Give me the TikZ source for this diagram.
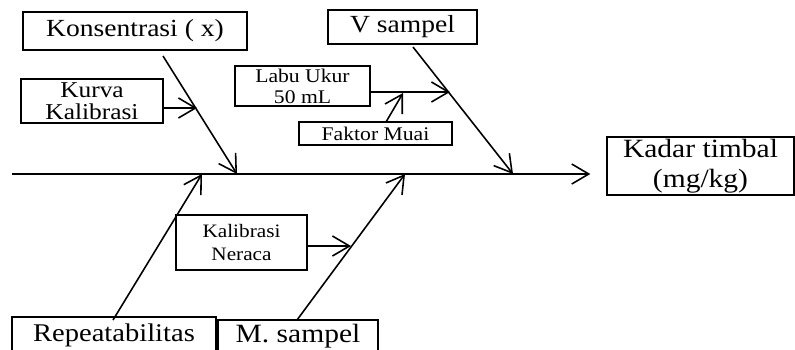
\documentclass[tikz,border=0pt]{standalone}
\usepackage{fontspec}
\setmainfont[FakeStretch=1.12]{Liberation Serif}
\usetikzlibrary{arrows.meta}
\tikzset{
  bonearrow/.style={-{Straight Barb[length=3.4mm, width=4mm]}, line width=0.9pt},
  causebox/.style={draw, line width=0.8pt, inner sep=0pt, align=center},
  bigtext/.style={font=\fontsize{14}{15}\selectfont},
  midtext/.style={font=\fontsize{12.9}{12.5}\selectfont},
  smalltext/.style={font=\fontsize{11}{12}\selectfont}
}
\begin{document}
\begin{tikzpicture}[x=0.2mm, y=-0.2mm]
  \useasboundingbox (0,0) rectangle (795,349);
  \node[causebox, bigtext, minimum width=4.48cm, minimum height=0.76cm] (konsen) at (135,31) {Konsentrasi ( x)};
  \node[causebox, bigtext, minimum width=2.98cm, minimum height=0.68cm] (vsampel) at (402.5,27) {V sampel};
  \node[causebox, midtext, minimum width=2.84cm, minimum height=0.88cm] (kurva) at (92,101) {Kurva\\Kalibrasi};
  \node[causebox, smalltext, minimum width=2.7cm, minimum height=0.8cm] (labu) at (302.5,86) {Labu Ukur\\50 mL};
  \node[causebox, smalltext, minimum width=3.06cm, minimum height=0.46cm] (faktor) at (375.5,133.5) {Faktor Muai};
  \node[causebox, font=\fontsize{15}{17}\selectfont, minimum width=3.74cm, minimum height=1.16cm] (kadar) at (700.5,166) {Kadar timbal\\(mg/kg)};
  \node[causebox, font=\fontsize{10.8}{13.5}\selectfont, minimum width=2.62cm, minimum height=1.1cm] (neraca) at (241.5,242.5) {Kalibrasi\\Neraca};
  \node[causebox, font=\fontsize{14.5}{15}\selectfont, minimum width=4.08cm, minimum height=0.72cm] (repeat) at (114,335) {Repeatabilitas};
  \node[causebox, font=\fontsize{15}{15}\selectfont, minimum width=3.2cm, minimum height=0.64cm] (msampel) at (298,336) {M. sampel};

  \coordinate (spine) at (12,174);
  \coordinate (konsentail) at (163,56);
  \coordinate (konsentip) at (237,174);
  \coordinate (kurvatip) at (197,108);
  \coordinate (vtail) at (413,47);
  \coordinate (vtip) at (513,174);
  \coordinate (labutip) at (450,92);
  \coordinate (faktortail) at (386,122);
  \coordinate (faktortip) at (403,93);
  \coordinate (repeattail) at (113,320);
  \coordinate (repeattip) at (202,174);
  \coordinate (mtail) at (297,320);
  \coordinate (mtip) at (405,174);
  \coordinate (neracatip) at (351,246);

  \draw[bonearrow, shorten >=3.2mm] (spine) -- (spine -| kadar.west);
  \draw[bonearrow] (konsentail) -- (konsentip);
  \draw[bonearrow] (kurva.east |- kurvatip) -- (kurvatip);
  \draw[bonearrow] (vtail) -- (vtip);
  \draw[bonearrow] (labu.east |- labutip) -- (labutip);
  \draw[bonearrow] (faktortail) -- (faktortip);
  \draw[bonearrow] (repeattail) -- (repeattip);
  \draw[bonearrow] (mtail) -- (mtip);
  \draw[bonearrow] (neraca.east |- neracatip) -- (neracatip);
\end{tikzpicture}
\end{document}
